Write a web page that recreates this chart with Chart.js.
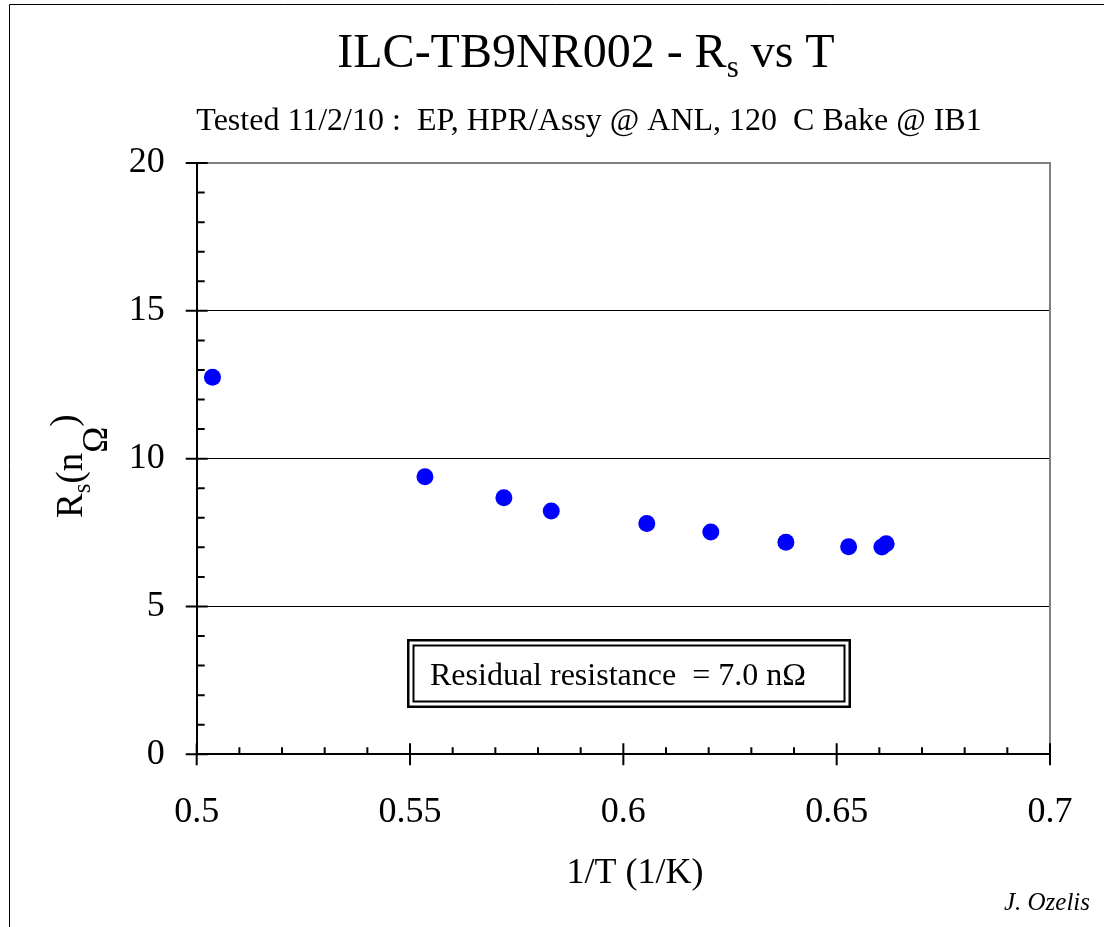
<!DOCTYPE html>
<html>
<head>
<meta charset="utf-8">
<script src="https://cdn.jsdelivr.net/npm/chart.js@4/dist/chart.umd.min.js"></script>
<style>
  html, body { margin: 0; padding: 0; background: #fff; }
  canvas { display: block; }
</style>
</head>
<body>
<canvas id="rsChart" width="1104" height="927" style="width:1104px;height:927px"></canvas>
<script>
// rs vs 1/T for ILC-TB9NR002

const invT = [0.5037, 0.5535, 0.5720, 0.5831, 0.6055, 0.6205, 0.6381, 0.6528, 0.6606, 0.6616];
const rsNOhm = [12.75, 9.39, 8.68, 8.23, 7.81, 7.52, 7.17, 7.02, 7.01, 7.12];

const xTicks = [0.5, 0.55, 0.6, 0.65, 0.7];
const xTickLabels = ["0.5", "0.55", "0.6", "0.65", "0.7"];
const yTicks = [0, 5, 10, 15, 20];
const yTickLabels = ["0", "5", "10", "15", "20"];

const titleText = ["ILC-TB9NR002 - R", "s", " vs T"];
const subtitleText = "Tested 11/2/10 :  EP, HPR/Assy @ ANL, 120  C Bake @ IB1";
const xTitle = "1/T (1/K)";
const yTitle = ["R", "s", "(n", "\u03A9", ")"];
const boxText = "Residual resistance  = 7.0 n\u03A9";
const authorText = "J. Ozelis";

const SERIF = '"Liberation Serif", "Times New Roman", serif';
const xMinorStep = 0.01;
const yMinorStep = 1;

// draw a list of text pieces one after another, each with own font / baseline shift
function drawRuns(ctx, runs, x0, y0) {
  let xx = x0;
  runs.forEach(r => {
    ctx.font = r.font;
    ctx.fillText(r.text, xx, y0 + (r.dy || 0));
    xx += ctx.measureText(r.text).width;
  });
}
function runsWidth(ctx, runs) {
  let w = 0;
  runs.forEach(r => { ctx.font = r.font; w += ctx.measureText(r.text).width; });
  return w;
}

const tickPlugin = {
  id: "rsTicks",
  beforeDatasetsDraw(chart) {
    const { ctx, scales: { x, y }, chartArea: { left, right, top, bottom } } = chart;
    ctx.save();
    // grey right edge of the plot area
    ctx.strokeStyle = "#808080";
    ctx.lineWidth = 2;
    ctx.beginPath();
    ctx.moveTo(right, top - 1);
    ctx.lineTo(right, bottom);
    ctx.stroke();

    ctx.strokeStyle = "#000";
    ctx.lineWidth = 2;
    ctx.beginPath();
    const nx = Math.round((x.max - x.min) / xMinorStep);
    for (let i = 0; i <= nx; i++) {
      const px = x.getPixelForValue(x.min + i * xMinorStep);
      const major = i % 5 === 0;
      ctx.moveTo(px, major ? bottom + 11 : bottom);
      ctx.lineTo(px, bottom - (major ? 11 : 7));
    }
    const ny = Math.round((y.max - y.min) / yMinorStep);
    for (let i = 0; i <= ny; i++) {
      const py = y.getPixelForValue(y.min + i * yMinorStep);
      const major = i % 5 === 0;
      ctx.moveTo(major ? left - 11 : left, py);
      ctx.lineTo(left + (major ? 11 : 8), py);
    }
    ctx.stroke();
    ctx.restore();
  }
};

const textPlugin = {
  id: "rsTexts",
  afterDraw(chart) {
    const { ctx } = chart;
    ctx.save();
    ctx.fillStyle = "#000";
    ctx.textBaseline = "alphabetic";
    ctx.textAlign = "left";

    // outer frame (left + top)
    ctx.strokeStyle = "#000";
    ctx.lineWidth = 1;
    ctx.beginPath();
    ctx.moveTo(9.5, 927);
    ctx.lineTo(9.5, 4.5);
    ctx.lineTo(1104, 4.5);
    ctx.stroke();

    // title with subscript
    const tRuns = [
      { text: titleText[0], font: `48px ${SERIF}` },
      { text: titleText[1], font: `31px ${SERIF}`, dy: 10 },
      { text: titleText[2], font: `48px ${SERIF}` }
    ];
    drawRuns(ctx, tRuns, 586 - runsWidth(ctx, tRuns) / 2, 67);

    ctx.font = `32px ${SERIF}`;
    ctx.textAlign = "center";
    ctx.fillText(subtitleText, 589, 130);

    // x axis title
    ctx.font = `36px ${SERIF}`;
    ctx.fillText(xTitle, 635, 883);

    // y axis title, rotated
    ctx.save();
    ctx.translate(82, 518);
    ctx.rotate(-Math.PI / 2);
    ctx.textAlign = "left";
    drawRuns(ctx, [
      { text: yTitle[0], font: `37px ${SERIF}` },
      { text: yTitle[1], font: `25px ${SERIF}`, dy: 8 },
      { text: yTitle[2], font: `37px ${SERIF}` },
      { text: yTitle[3], font: `35px ${SERIF}`, dy: 25 },
      { text: yTitle[4], font: `37px ${SERIF}`, dy: -6 }
    ], 0, 0);
    ctx.restore();

    // residual resistance box (double border)
    const bx = 407, by = 639, bw = 444, bh = 69;
    ctx.fillStyle = "#fff";
    ctx.fillRect(bx, by, bw, bh);
    ctx.strokeStyle = "#000";
    ctx.lineWidth = 2.5;
    ctx.strokeRect(bx + 1.25, by + 1.25, bw - 2.5, bh - 2.5);
    ctx.lineWidth = 2;
    ctx.strokeRect(bx + 6.5, by + 6.5, bw - 13, bh - 13);
    ctx.fillStyle = "#000";
    ctx.textAlign = "left";
    ctx.font = `32px ${SERIF}`;
    ctx.fillText(boxText, 430, 685);

    // author
    ctx.font = `italic 25px ${SERIF}`;
    ctx.textAlign = "right";
    ctx.fillText(authorText, 1090, 910);
    ctx.restore();
  }
};

const rsChart = new Chart(document.getElementById("rsChart").getContext("2d"), {
  type: "scatter",
  data: {
    datasets: [{
      label: "Rs",
      data: invT.map((v, i) => ({ x: v, y: rsNOhm[i] })),
      backgroundColor: "#0000ff",
      borderWidth: 0,
      pointRadius: 8.5,
      pointHoverRadius: 8.5
    }]
  },
  plugins: [tickPlugin, textPlugin],
  options: {
    responsive: false,
    animation: false,
    layout: { autoPadding: false, padding: { left: 96.7, right: 54, top: 163, bottom: 72.7 } },
    plugins: {
      legend: { display: false },
      tooltip: { enabled: false }
    },
    scales: {
      x: {
        type: "linear",
        min: 0.5,
        max: 0.7,
        afterFit: s => { s.height = 100; s.paddingLeft = 0; s.paddingRight = 0; },
        afterBuildTicks: s => { s.ticks = xTicks.map(v => ({ value: v })); },
        ticks: {
          color: "#000",
          padding: 37,
          maxRotation: 0,
          font: { family: SERIF, size: 36 },
          callback: (v, i) => xTickLabels[i]
        },
        grid: { display: false, drawTicks: false },
        border: { color: "#000", width: 2 }
      },
      y: {
        type: "linear",
        min: 0,
        max: 20,
        afterFit: s => { s.width = 100; s.paddingTop = 0; s.paddingBottom = 0; },
        afterBuildTicks: s => { s.ticks = yTicks.map(v => ({ value: v })); },
        ticks: {
          color: "#000",
          padding: 32,
          font: { family: SERIF, size: 36 },
          callback: (v, i) => yTickLabels[i]
        },
        grid: {
          drawTicks: false,
          color: c => c.tick && c.tick.value === 20 ? "#808080" : (c.tick && c.tick.value === 0 ? "rgba(0,0,0,0)" : "#000"),
          lineWidth: c => c.tick && c.tick.value === 20 ? 2 : 1
        },
        border: { color: "#000", width: 2 }
      }
    }
  }
});
</script>
</body>
</html>
